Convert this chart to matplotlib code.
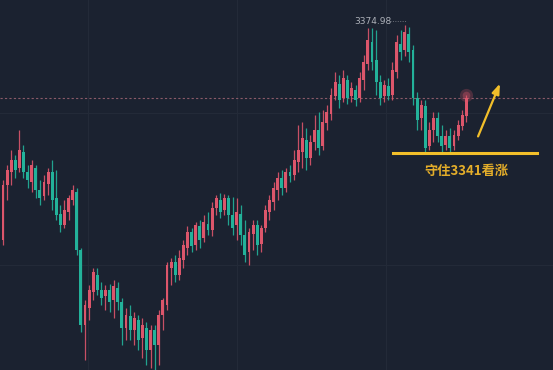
import numpy as np
import matplotlib
matplotlib.use("Agg")
import matplotlib.pyplot as plt

# OHLC (price units)
opens = [3317.9, 3332.5, 3336.0, 3339.1, 3337.0, 3341.3, 3336.0, 3333.3, 3337.0, 3331.2,
         3329.6, 3332.8, 3336.0, 3329.0, 3324.8, 3321.9, 3325.3, 3328.5, 3330.7, 3315.3,
         3295.3, 3299.9, 3304.1, 3308.6, 3304.6, 3303.0, 3304.6, 3302.0, 3305.2, 3301.5,
         3294.5, 3297.7, 3294.0, 3296.7, 3291.9, 3294.5, 3288.7, 3294.0, 3290.0, 3298.0,
         3300.7, 3310.5, 3312.1, 3308.6, 3312.6, 3315.8, 3320.0, 3316.6, 3321.6, 3318.4,
         3322.1, 3320.6, 3326.4, 3328.5, 3325.9, 3329.0, 3324.5, 3321.9, 3324.8, 3319.2,
         3314.7, 3319.5, 3321.9, 3316.9, 3321.1, 3325.3, 3328.0, 3331.2, 3334.4, 3331.7,
         3336.0, 3335.2, 3338.6, 3341.3, 3344.4, 3339.7, 3343.9, 3347.1, 3342.9, 3348.9,
         3351.4, 3356.1, 3359.3, 3355.6, 3360.4, 3356.1, 3357.7, 3355.6, 3360.4, 3364.6,
         3370.5, 3365.7, 3359.8, 3356.1, 3358.8, 3356.4, 3362.5, 3369.9, 3368.3, 3372.6,
         3368.3, 3355.6, 3350.3, 3353.5, 3342.9, 3347.1, 3350.3, 3345.5, 3343.1, 3345.5,
         3342.9, 3345.5, 3348.2, 3350.8]
highs = [3333.8, 3337.8, 3341.8, 3340.5, 3347.1, 3343.1, 3337.8, 3339.1, 3337.8, 3333.8,
         3335.2, 3337.0, 3339.1, 3336.5, 3327.2, 3328.5, 3329.8, 3332.5, 3331.7, 3315.8,
         3302.0, 3306.0, 3310.5, 3310.5, 3306.8, 3306.0, 3306.3, 3307.3, 3306.8, 3302.5,
         3299.9, 3300.7, 3298.8, 3298.0, 3297.2, 3296.1, 3295.3, 3295.3, 3299.3, 3302.5,
         3312.1, 3313.1, 3313.9, 3315.3, 3317.9, 3321.6, 3321.1, 3322.7, 3323.2, 3324.5,
         3325.3, 3328.0, 3329.8, 3330.4, 3330.1, 3329.8, 3329.3, 3329.0, 3327.2, 3323.2,
         3321.1, 3323.2, 3323.2, 3321.9, 3327.2, 3329.8, 3333.3, 3336.0, 3336.5, 3337.0,
         3337.8, 3341.8, 3348.4, 3349.2, 3347.6, 3345.8, 3351.1, 3351.9, 3352.4, 3353.7,
         3358.2, 3362.5, 3361.7, 3363.0, 3361.7, 3359.8, 3359.0, 3362.5, 3367.0, 3374.2,
         3374.2, 3373.6, 3361.7, 3360.4, 3360.9, 3365.2, 3372.3, 3373.6, 3374.98, 3374.4,
         3369.7, 3357.2, 3355.1, 3355.1, 3349.2, 3351.9, 3351.9, 3348.4, 3347.1, 3347.6,
         3347.1, 3349.8, 3352.4, 3356.4]
lows = [3316.6, 3328.5, 3332.5, 3334.4, 3336.0, 3334.4, 3331.7, 3330.7, 3329.0, 3327.2,
        3328.5, 3329.8, 3325.9, 3323.2, 3320.0, 3321.1, 3323.2, 3327.2, 3313.9, 3293.5,
        3286.1, 3296.7, 3302.0, 3303.3, 3300.7, 3299.3, 3298.8, 3297.2, 3299.3, 3290.0,
        3291.4, 3291.4, 3290.0, 3288.7, 3286.6, 3284.7, 3283.9, 3283.4, 3284.7, 3294.0,
        3299.3, 3306.0, 3306.8, 3307.3, 3310.5, 3313.9, 3314.7, 3315.3, 3315.8, 3317.4,
        3319.2, 3319.0, 3324.5, 3323.7, 3324.5, 3321.9, 3319.2, 3317.9, 3316.6, 3312.1,
        3311.3, 3315.3, 3313.9, 3314.7, 3320.0, 3323.2, 3325.9, 3328.5, 3329.8, 3330.7,
        3333.3, 3333.8, 3336.0, 3337.0, 3336.5, 3337.8, 3341.8, 3340.5, 3341.8, 3347.1,
        3349.8, 3355.1, 3352.9, 3354.5, 3354.0, 3354.5, 3353.5, 3354.5, 3357.7, 3363.0,
        3363.0, 3356.4, 3353.7, 3354.5, 3355.1, 3355.1, 3360.9, 3365.7, 3366.7, 3365.2,
        3353.7, 3347.1, 3347.1, 3341.3, 3341.8, 3343.9, 3343.9, 3341.3, 3341.8, 3341.3,
        3341.8, 3344.4, 3347.1, 3349.2]
closes = [3332.5, 3336.5, 3339.1, 3336.5, 3341.8, 3336.0, 3333.8, 3337.8, 3331.2, 3329.0,
          3333.3, 3336.0, 3328.5, 3324.5, 3321.9, 3325.9, 3329.0, 3331.2, 3315.3, 3295.3,
          3300.7, 3304.6, 3309.4, 3304.6, 3302.5, 3304.6, 3301.5, 3305.7, 3301.5, 3294.5,
          3298.0, 3294.0, 3297.2, 3291.4, 3295.3, 3288.7, 3294.0, 3290.0, 3298.0, 3302.0,
          3311.3, 3312.1, 3308.6, 3313.1, 3316.6, 3320.0, 3316.3, 3321.9, 3317.9, 3322.7,
          3320.6, 3326.4, 3329.0, 3325.3, 3329.0, 3324.5, 3321.1, 3325.3, 3319.2, 3313.9,
          3320.0, 3321.9, 3316.6, 3321.1, 3325.9, 3328.5, 3331.7, 3334.4, 3331.7, 3336.0,
          3334.9, 3339.1, 3341.8, 3345.0, 3339.7, 3343.9, 3347.1, 3342.3, 3349.2, 3351.9,
          3356.4, 3359.8, 3355.1, 3360.9, 3355.6, 3358.2, 3355.1, 3360.9, 3365.2, 3371.0,
          3365.2, 3359.8, 3355.6, 3359.0, 3356.1, 3363.0, 3370.5, 3367.8, 3373.1, 3367.8,
          3355.6, 3349.8, 3353.7, 3342.3, 3347.1, 3350.3, 3345.5, 3342.9, 3345.5, 3342.3,
          3345.8, 3348.4, 3351.1, 3355.6]

high_label = "3374.98"
support = 3341
note = "守住3341看涨"

bg = "#1b2230"
up_c = "#dc566b"
dn_c = "#23b29a"
gold = "#f2bf2a"

o = np.array(opens); h = np.array(highs); l = np.array(lows); c = np.array(closes)
x = np.arange(len(o))
col = np.where(c >= o, up_c, dn_c)

fig = plt.figure(figsize=(5.53, 3.70), dpi=100, facecolor=bg)
ax = fig.add_axes([0, 0, 1, 1])
ax.set_facecolor(bg)

# faint grid
for gx in [20.7, 57.1, 93.4]:
    ax.axvline(gx, color="#232a38", lw=0.8, zorder=0)
for gy in [3351.6, 3311.3]:
    ax.axhline(gy, color="#232a38", lw=0.8, zorder=0)

ax.vlines(x, l, h, colors=col, lw=0.9, alpha=0.9, zorder=2)
body = np.maximum(np.abs(c - o), 0.4)
ax.bar(x, body, bottom=np.minimum(o, c), width=0.7, color=col, zorder=3, linewidth=0)

# last price line
ax.axhline(c[-1], color="#8a5a68", lw=0.8, ls=(0, (2, 2)), zorder=1)
ax.scatter([x[-1]], [h[-1]], s=90, color=up_c, alpha=0.25, lw=0, zorder=4)
ax.scatter([x[-1]], [h[-1]], s=30, color=up_c, alpha=0.35, lw=0, zorder=4)

# high label
hi = int(np.argmax(h))
ax.annotate(high_label, xy=(hi, h[hi]), xytext=(hi - 7.8, h[hi] + 1.0),
            color="#aeb2ba", fontsize=6.5, ha="center", va="center", zorder=5)
ax.plot([hi - 3.6, hi + 0.2], [h[hi] + 1.1, h[hi] + 1.1], color="#6b6f78",
        lw=0.7, ls=(0, (1, 1.5)), zorder=4)

ax.set_xlim(-0.73, 134.15)
ax.set_ylim(3283.4, 3381.6)

# support line, note and arrow
ax.axhline(support, xmin=393 / 553, xmax=537 / 553, color=gold, lw=2.2, zorder=5)
ax.text(466 / 553, 1 - 171 / 370, note, transform=ax.transAxes, color="#e3ad2a",
        fontsize=9.5, fontweight="bold", ha="center", va="center",
        family=["Noto Sans CJK SC", "DejaVu Sans"], zorder=5)
ax.annotate("", xy=(501 / 553, 1 - 81 / 370), xytext=(477 / 553, 1 - 139 / 370),
            xycoords="axes fraction", textcoords="axes fraction",
            arrowprops=dict(arrowstyle="-|>,head_width=0.22,head_length=0.6",
                            color=gold, lw=1.6), zorder=5)

ax.axis("off")
fig.savefig("out.png", dpi=100, facecolor=bg)
